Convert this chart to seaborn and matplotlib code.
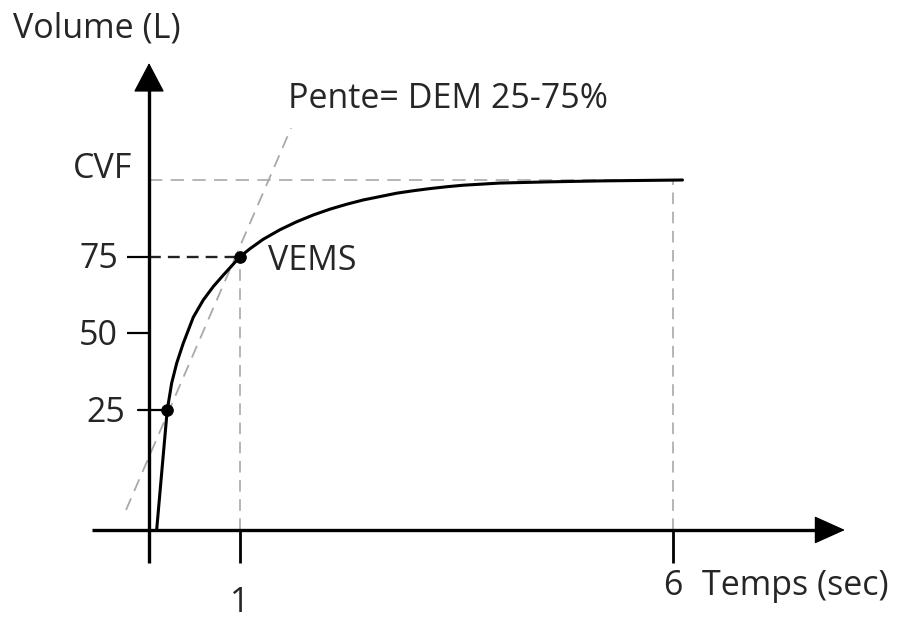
import matplotlib
matplotlib.use("Agg")
import matplotlib.pyplot as plt
import seaborn as sns
import pandas as pd

# ---------------- data ----------------
time_s = [0.038, 0.096, 0.16, 0.211, 0.269, 0.345, 0.461, 0.576, 0.692, 0.807,
          0.923, 1.0, 1.115, 1.269, 1.462, 1.655, 1.846, 2.039, 2.232, 2.424,
          2.617, 2.809, 3.001, 3.194, 3.387, 3.579, 4.0, 4.58, 5.155, 6.11]
volume = [-14, 4.6, 25, 33.8, 40.3, 46.8, 55.3, 60.9, 65.3, 69.0,
          72.6, 75, 77.6, 80.7, 83.8, 86.4, 88.6, 90.5, 92.1, 93.5,
          94.6, 95.7, 96.5, 97.2, 97.8, 98.3, 99.0, 99.4, 99.7, 100]

marked_t = [0.16, 1.0]
marked_v = [25, 75]
marked_names = ["", "VEMS"]

slope_t = [-0.316, 1.59]
slope_v = [-7.5, 116.9]
slope_label = "Pente= DEM 25-75%"

x_ticks = [1, 6]
x_tick_labels = ["1", "6"]
y_ticks = [25, 50, 75, 100]
y_tick_labels = ["25", "50", "75", "CVF"]

cvf_value = 100
cvf_time = 6
end_time = 6.11
baseline = -14          # volume level of the time axis
yaxis_t = -0.05         # time position of the volume axis

x_title = "Temps (sec)"
y_title = "Volume (L)"

# ---------------- style ----------------
sns.set_style("white")
plt.rcParams["font.family"] = ["Open Sans", "DejaVu Sans"]
FS = 24.5

fig = plt.figure(figsize=(8.97, 6.21), dpi=100)
ax = fig.add_axes([0, 0, 1, 1])
ax.set_xlim(-1.771, 8.587)
ax.set_ylim(-43.65, 158.63)
ax.axis("off")

GRAY = "#a9a9a9"

# reference dashed lines
ax.plot([yaxis_t, end_time], [cvf_value, cvf_value], color=GRAY, lw=1.2,
        dashes=(8, 5), zorder=1)
ax.plot([x_ticks[0], x_ticks[0]], [baseline, marked_v[1]], color=GRAY, lw=1.2,
        dashes=(7, 4.5), zorder=1)
ax.plot([cvf_time, cvf_time], [baseline, cvf_value], color=GRAY, lw=1.2,
        dashes=(7, 4.5), zorder=1)
ax.plot(slope_t, slope_v, color=GRAY, lw=1.3, dashes=(7, 4.5), zorder=1)
ax.plot([yaxis_t, marked_t[1]], [marked_v[1], marked_v[1]],
        color="#222222", lw=1.7, dashes=(5, 3), zorder=2)
# solid connector for 25
ax.plot([-0.178, marked_t[0]], [marked_v[0], marked_v[0]], color="black",
        lw=1.6, zorder=2)

# curve
df = pd.DataFrame({"t": time_s, "v": volume})
sns.lineplot(data=df, x="t", y="v", ax=ax, color="black", lw=2.2,
             sort=False, zorder=4)
sns.scatterplot(x=marked_t, y=marked_v, ax=ax, color="black", s=70,
                edgecolor="black", zorder=5)

# axes with arrows
y_bottom = -24.8
y_top = 138.1
x_left = -0.709
x_right = 7.986
ax.plot([yaxis_t, yaxis_t], [y_bottom, y_top - 6], color="black", lw=2.4,
        solid_capstyle="butt", zorder=3)
ax.plot([x_left, x_right - 0.2], [baseline, baseline], color="black", lw=2.4,
        solid_capstyle="butt", zorder=3)
ax.annotate("", xy=(yaxis_t, y_top), xytext=(yaxis_t, y_top - 9),
            arrowprops=dict(arrowstyle="-|>,head_length=0.95,head_width=0.5",
                            color="black", lw=1, shrinkA=0, shrinkB=0,
                            mutation_scale=20), zorder=3)
ax.annotate("", xy=(x_right, baseline), xytext=(x_right - 0.3, baseline),
            arrowprops=dict(arrowstyle="-|>,head_length=1.0,head_width=0.45",
                            color="black", lw=1, shrinkA=0, shrinkB=0,
                            mutation_scale=20), zorder=3)

# ticks
for xt in x_ticks:
    ax.plot([xt, xt], [baseline, y_bottom], color="black", lw=2.0,
            solid_capstyle="butt", zorder=3)
for yt in y_ticks[1:3]:
    ax.plot([-0.30, yaxis_t], [yt, yt], color="black", lw=1.6,
            solid_capstyle="butt", zorder=3)

# tick labels
y_offsets = {"25": (-24, -12), "50": (-31, -11.5), "75": (-31, -11.5),
             "CVF": (-17, 2)}
for yt, lab in zip(y_ticks, y_tick_labels):
    dx, dy = y_offsets[lab]
    ax.annotate(lab, xy=(yaxis_t, yt), xytext=(dx, dy),
                textcoords="offset pixels", ha="right", va="baseline",
                fontsize=FS)
x_offsets = {"1": -82, "6": -65}
for xt, lab in zip(x_ticks, x_tick_labels):
    ax.annotate(lab, xy=(xt, baseline), xytext=(0, x_offsets[lab]),
                textcoords="offset pixels", ha="center", va="baseline",
                fontsize=FS)

ax.annotate(x_title, xy=(x_ticks[1], baseline), xytext=(29, -65),
            textcoords="offset pixels", ha="left", va="baseline", fontsize=FS)
ax.annotate(y_title, xy=(yaxis_t, y_top), xytext=(-136, 26),
            textcoords="offset pixels", ha="left", va="baseline", fontsize=FS)
ax.annotate(marked_names[1], xy=(marked_t[1], marked_v[1]), xytext=(28, -13),
            textcoords="offset pixels", ha="left", va="baseline", fontsize=FS)
ax.annotate(slope_label, xy=(slope_t[1], slope_v[1]), xytext=(-3, 20),
            textcoords="offset pixels", ha="left", va="baseline", fontsize=FS)

fig.savefig("out.png", dpi=100, facecolor="white")
